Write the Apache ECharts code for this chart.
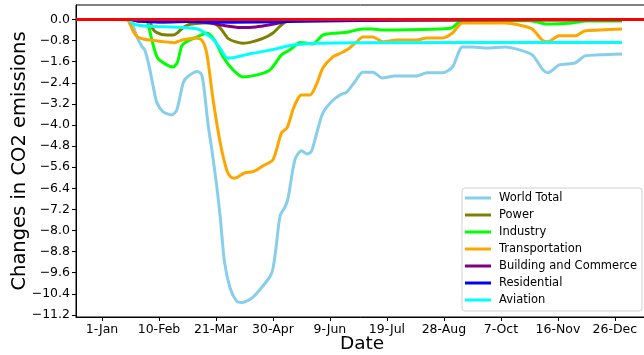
<!DOCTYPE html>
<html>
<head>
<meta charset="utf-8">
<script src="https://cdn.jsdelivr.net/npm/echarts@6/dist/echarts.min.js"></script>
<style>
html,body{margin:0;padding:0;background:#fff;}
#c{width:644px;height:355px;}
</style>
</head>
<body>
<div id="c"></div>
<script>
// x values are day-of-year (0 = 1-Jan)
const xTickDays = [0, 40, 80, 120, 160, 200, 240, 280, 320, 360];
const xTickLabels = ['1-Jan','10-Feb','21-Mar','30-Apr','9-Jun','19-Jul','28-Aug','7-Oct','16-Nov','26-Dec'];
const yTicks = [0, -0.8, -1.6, -2.4, -3.2, -4.0, -4.8, -5.6, -6.4, -7.2, -8.0, -8.8, -9.6, -10.4, -11.2];

const seriesNames = ['World Total','Power','Industry','Transportation','Building and Commerce','Residential','Aviation'];

const worldTotal = [[0,0],[10,0],[18,-0.02],[21,-0.12],[24.5,-0.66],[28,-1.02],[30,-1.15],[33,-1.75],[36,-2.55],[38.5,-3.15],[43,-3.5],[49,-3.62],[52.5,-3.43],[57,-2.4],[60,-2.17],[67,-1.97],[70,-2.1],[72,-2.8],[74.5,-4.0],[77,-4.9],[80.5,-6.3],[83,-7.5],[86,-9.2],[90,-10.2],[94.5,-10.68],[98,-10.73],[105,-10.57],[111,-10.23],[118,-9.74],[120,-9.45],[122,-8.72],[125,-7.45],[128.5,-7.1],[130.5,-6.8],[135.5,-5.3],[140,-4.98],[144,-5.1],[147,-5.0],[151.5,-4.15],[155,-3.55],[161,-3.12],[167,-2.86],[172,-2.74],[177.5,-2.36],[183,-2.0],[190,-2.0],[197,-2.22],[205.5,-2.14],[221,-2.14],[228,-2.02],[239,-2.02],[246,-1.8],[253,-1.04],[260,-1.04],[270,-1.08],[283,-1.04],[293,-1.15],[302,-1.34],[309.5,-1.91],[313,-2.02],[321,-1.72],[332,-1.65],[339,-1.38],[349.5,-1.34],[365,-1.31]];

const power = [[0,0],[32,0],[34,-0.08],[35,-0.3],[38.5,-0.5],[45.5,-0.59],[50,-0.59],[53,-0.5],[56,-0.35],[60,-0.21],[66,-0.15],[71,-0.13],[78,-0.13],[83,-0.32],[88.5,-0.72],[94,-0.85],[99,-0.9],[106,-0.84],[113,-0.72],[120,-0.51],[125,-0.25],[130,-0.07],[140,-0.03],[365,-0.02]];

const industry = [[0,0],[30,0],[32,-0.1],[35,-0.78],[39,-1.46],[45.5,-1.72],[50,-1.8],[53,-1.61],[56,-1.0],[60,-0.82],[66,-0.68],[69,-0.6],[73.5,-0.51],[79,-0.78],[85,-1.42],[92,-1.91],[99,-2.18],[109,-2.1],[118,-1.91],[126,-1.34],[132,-1.15],[139,-0.87],[144,-0.9],[148,-0.93],[155,-0.59],[165,-0.51],[172,-0.48],[183,-0.36],[190,-0.36],[197,-0.4],[237,-0.36],[245.5,-0.32],[251,-0.09],[260,-0.05],[300,-0.05],[305,-0.09],[312,-0.17],[330,-0.13],[340,-0.06],[365,-0.06]];

const transportation = [[0,0],[17,0],[19,-0.1],[22,-0.45],[25,-0.66],[29,-0.74],[34,-0.78],[43,-0.84],[51,-0.88],[55,-0.8],[60,-0.74],[65,-0.7],[70,-0.78],[73.5,-1.28],[78,-3.05],[83,-4.68],[87.5,-5.7],[90,-5.95],[93,-6.02],[100,-5.82],[106,-5.77],[113,-5.55],[120,-5.32],[126,-4.3],[130,-4.1],[134,-3.42],[137.5,-3.0],[140,-2.86],[146,-2.86],[151,-2.4],[155,-1.84],[162,-1.42],[167,-1.29],[172,-1.15],[179,-0.84],[183,-0.66],[190,-0.66],[197,-0.84],[207,-0.78],[221,-0.78],[228,-0.7],[239,-0.7],[246,-0.51],[253,-0.13],[267,-0.13],[283,-0.13],[293,-0.21],[302,-0.36],[309,-0.78],[313,-0.84],[321,-0.62],[332,-0.62],[339,-0.43],[349.5,-0.4],[365,-0.36]];

const building = [[0,0],[20,0],[25,-0.05],[40,-0.1],[60,-0.08],[75,-0.12],[85,-0.22],[97,-0.3],[108,-0.28],[118,-0.2],[125,-0.12],[132,-0.05],[150,-0.02],[365,-0.01]];

const residential = [[0,0],[20,0],[27,-0.07],[60,-0.08],[90,-0.1],[130,-0.08],[180,-0.04],[250,-0.01],[365,0]];

const aviation = [[0,0],[19,0],[20,-0.1],[24,-0.2],[30,-0.25],[40,-0.27],[55,-0.3],[67,-0.36],[72,-0.5],[78,-0.75],[83,-1.1],[88,-1.46],[92,-1.45],[104,-1.3],[118,-1.16],[134,-0.97],[151,-0.9],[181,-0.88],[365,-0.87]];

const seriesData = [worldTotal, power, industry, transportation, building, residential, aviation];
const seriesColors = ['#87CEEB','#808000','#00FF00','#FFA500','#800080','#0000FF','#00FFFF'];

// axis bounds (matplotlib-style 5% margins around the data)
const X_MIN = -18.25, X_MAX = 383.25;
const Y_MIN = -11.28, Y_MAX = 0.55;
const ZERO_LEVEL = 0;

const FONT = 'DejaVu Sans';
const chart = echarts.init(document.getElementById('c'), null, {renderer:'canvas'});

const series = seriesNames.map((n,i)=>({
  name:n, type:'line', data:seriesData[i], symbol:'none', smooth:0.25,
  lineStyle:{width:3, color:seriesColors[i]}, itemStyle:{color:seriesColors[i]},
  emphasis:{disabled:true}, z:2+i
}));
// red reference line at zero across the full axis range
series.push({
  name:'zero', type:'line', data:[[X_MIN, ZERO_LEVEL],[X_MAX, ZERO_LEVEL]], symbol:'none', z:20,
  lineStyle:{color:'#FF0000', width:3}, itemStyle:{color:'#FF0000'}, emphasis:{disabled:true}, silent:true
});

const fmtY = v => (v < 0 ? '\u2212' + Math.abs(v).toFixed(1) : Math.abs(v).toFixed(1));

chart.setOption({
  animation:false,
  backgroundColor:'#fff',
  textStyle:{fontFamily:FONT},
  grid:{left:76, top:5, right:-4, bottom:38, show:true, borderColor:'#000', borderWidth:1, backgroundColor:'transparent', containLabel:false, outerBoundsMode:'none'},
  xAxis:{
    type:'value', min:X_MIN, max:X_MAX,
    name:'Date', nameLocation:'middle', nameGap:18, nameMoveOverlap:false,
    nameTextStyle:{fontSize:18.5, color:'#000', fontFamily:FONT},
    axisLine:{show:true, onZero:false, lineStyle:{color:'#000', width:1}},
    axisTick:{show:true, customValues:xTickDays, length:4, lineStyle:{color:'#000'}},
    axisLabel:{customValues:xTickDays, formatter:v=>xTickLabels[xTickDays.indexOf(v)], fontSize:12.5, color:'#000', margin:6, fontFamily:FONT},
    splitLine:{show:false}
  },
  yAxis:{
    type:'value', min:Y_MIN, max:Y_MAX,
    name:'Changes in CO2 emissions', nameLocation:'middle', nameGap:46, nameMoveOverlap:false,
    nameTextStyle:{fontSize:19.5, color:'#000', fontFamily:FONT},
    axisLine:{show:true, onZero:false, lineStyle:{color:'#000', width:1}},
    axisTick:{show:true, customValues:yTicks, length:4, lineStyle:{color:'#000'}},
    axisLabel:{customValues:yTicks, formatter:fmtY, fontSize:12.5, color:'#000', margin:6, fontFamily:FONT},
    splitLine:{show:false}
  },
  legend:{
    data:seriesNames, orient:'vertical', left:462, top:188,
    icon:'rect', itemWidth:26, itemHeight:3, itemGap:3,
    padding:[3,5,4,3],
    backgroundColor:'#fff', borderColor:'#d0d0d0', borderWidth:1, borderRadius:3,
    textStyle:{fontSize:11.5, color:'#000', fontFamily:FONT, lineHeight:14, padding:[0,0,0,3]},
    selectedMode:false
  },
  series:series
});
</script>
</body>
</html>
